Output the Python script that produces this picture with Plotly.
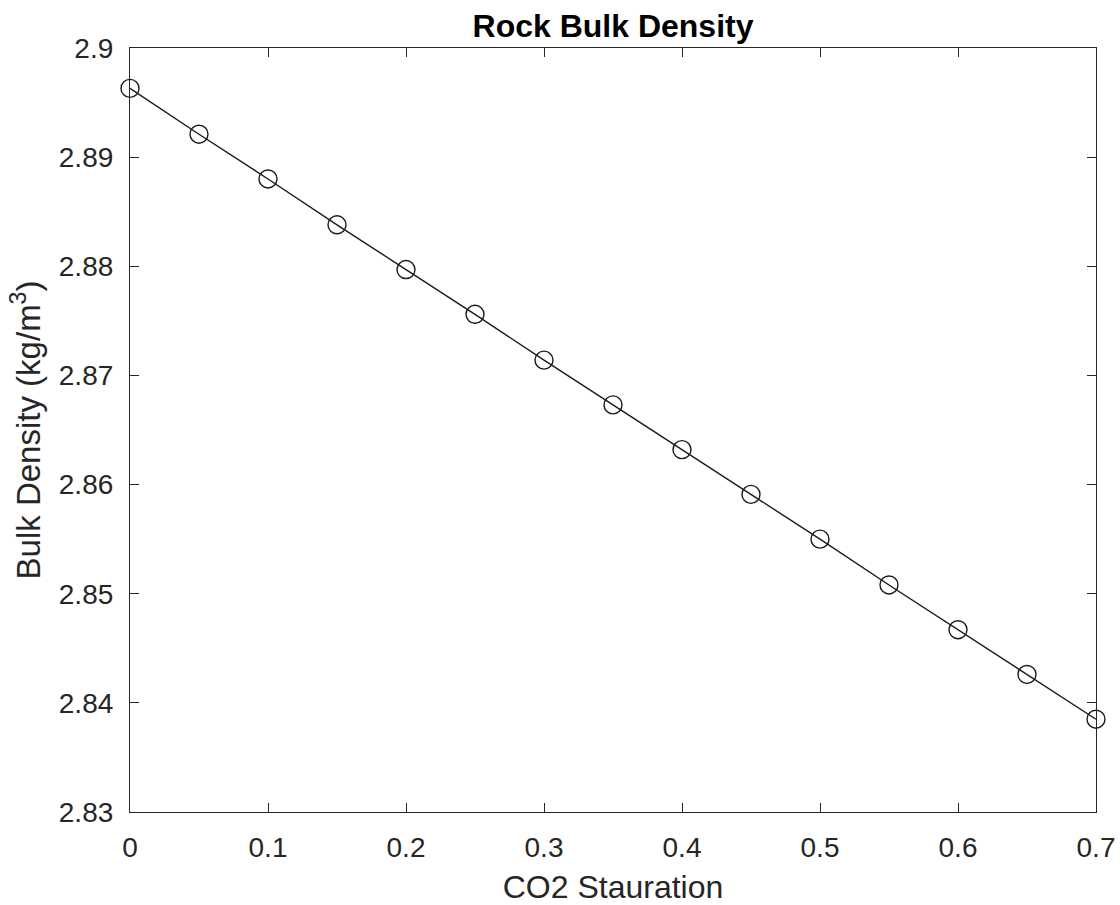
import plotly.graph_objects as go

# CO2 saturation steps and the corresponding rock bulk density
co2_saturation = [0.0, 0.05, 0.10, 0.15, 0.20, 0.25, 0.30, 0.35,
                  0.40, 0.45, 0.50, 0.55, 0.60, 0.65, 0.70]
bulk_density = [2.8963, 2.8921, 2.8880, 2.8838, 2.8797, 2.8756, 2.8714, 2.8673,
                2.8632, 2.8591, 2.8550, 2.8508, 2.8467, 2.8426, 2.8385]

x_ticks = [0, 0.1, 0.2, 0.3, 0.4, 0.5, 0.6, 0.7]
x_tick_text = ["0", "0.1", "0.2", "0.3", "0.4", "0.5", "0.6", "0.7"]
y_ticks = [2.83, 2.84, 2.85, 2.86, 2.87, 2.88, 2.89, 2.9]
y_tick_text = ["2.83", "2.84", "2.85", "2.86", "2.87", "2.88", "2.89", "2.9"]

FONT = "Liberation Sans, Arial, Helvetica, sans-serif"
AXIS_COLOR = "#262626"

fig = go.Figure()
fig.add_trace(go.Scatter(
    x=co2_saturation,
    y=bulk_density,
    mode="lines+markers",
    line=dict(color="#1a1a1a", width=1.4),
    marker=dict(symbol="circle-open", size=18, color="#1a1a1a",
                line=dict(width=1.4, color="#1a1a1a")),
    cliponaxis=False,
    showlegend=False,
))

axis_common = dict(
    showline=True, linecolor=AXIS_COLOR, linewidth=1.2,
    mirror="ticks", ticks="inside", ticklen=9, tickwidth=1.2,
    tickcolor=AXIS_COLOR, showgrid=False, zeroline=False,
    tickfont=dict(family=FONT, size=28, color=AXIS_COLOR),
)

fig.update_layout(
    width=1120, height=905,
    paper_bgcolor="white", plot_bgcolor="white",
    margin=dict(l=130, r=24, t=48, b=93, autoexpand=False),
    title=dict(text="<b>Rock Bulk Density</b>", x=0.5, xref="paper",
               y=1 - 26 / 905, yref="container", yanchor="middle",
               font=dict(family=FONT, size=32, color="black")),
    xaxis=dict(range=[0, 0.7], tickvals=x_ticks, ticktext=x_tick_text,
               ticklabelstandoff=10,
               title=dict(text="CO2 Stauration", standoff=14,
                          font=dict(family=FONT, size=32, color=AXIS_COLOR)),
               **axis_common),
    yaxis=dict(range=[2.83, 2.9], tickvals=y_ticks, ticktext=y_tick_text,
               ticklabelstandoff=10,
               title=dict(text="Bulk Density (kg/m<sup>3</sup>)", standoff=8,
                          font=dict(family=FONT, size=33, color=AXIS_COLOR)),
               **axis_common),
)

fig.write_html("out.html")
